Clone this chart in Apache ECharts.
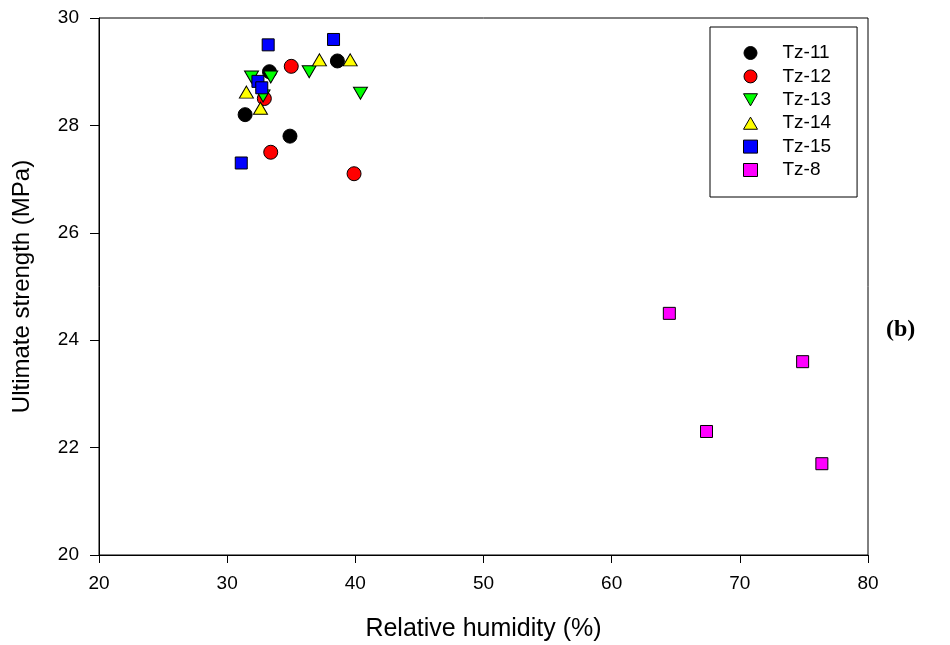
<!DOCTYPE html>
<html><head><meta charset="utf-8">
<script src="https://cdn.jsdelivr.net/npm/echarts@6/dist/echarts.min.js"></script>
<style>html,body{margin:0;padding:0;background:#fff}#c{width:950px;height:645px}</style>
</head><body><div id="c"></div>
<script>
const seriesNames = ['Tz-11','Tz-12','Tz-13','Tz-14','Tz-15','Tz-8'];
const tz11 = [[31.4,28.2],[33.3,29.0],[34.9,27.8],[38.6,29.2]];
const tz12 = [[35.0,29.1],[32.9,28.5],[33.4,27.5],[39.9,27.1]];
const tz13 = [[31.9,28.9],[33.4,28.9],[32.8,28.55],[36.4,29.0],[40.4,28.6]];
const tz14 = [[31.5,28.62],[32.6,28.32],[37.2,29.22],[39.6,29.22]];
const tz15 = [[33.2,29.5],[38.3,29.6],[32.4,28.82],[32.7,28.7],[31.1,27.3]];
const tz8  = [[64.5,24.5],[74.9,23.6],[67.4,22.3],[76.4,21.7]];
const xTicks = [20,30,40,50,60,70,80];
const yTicks = [20,22,24,26,28,30];

const downTri = 'path://M0,0 L10,0 L5,8.66 Z';
const upTri = 'path://M5,0 L10,8.66 L0,8.66 Z';
const styles = [
  {symbol:'circle', size:14, color:'#000000'},
  {symbol:'circle', size:14, color:'#ff0000'},
  {symbol:downTri, size:[14,12], color:'#00ff00'},
  {symbol:upTri, size:[14,12], color:'#ffff00'},
  {symbol:'rect', size:12, color:'#0000ff'},
  {symbol:'rect', size:12, color:'#ff00ff'}
];
const datas = [tz11,tz12,tz13,tz14,tz15,tz8];

const chart = echarts.init(document.getElementById('c'), null, {renderer:'canvas'});
const font = 'Liberation Sans, Arial, sans-serif';
chart.setOption({
  animation:false,
  backgroundColor:'#ffffff',
  grid:{left:99, right:82, top:18, bottom:90, show:true, borderColor:'#000', borderWidth:1, backgroundColor:'transparent', containLabel:false, outerBoundsMode:'none'},
  xAxis:{
    type:'value', min:xTicks[0], max:xTicks[xTicks.length-1], interval:10,
    name:'Relative humidity (%)', nameLocation:'middle', nameGap:62,
    nameTextStyle:{fontFamily:font, fontSize:25, color:'#000'},
    axisLine:{show:true, onZero:false, lineStyle:{color:'#000', width:1}},
    axisTick:{show:true, inside:false, length:8, lineStyle:{color:'#000'}},
    axisLabel:{fontFamily:font, fontSize:19, color:'#000', margin:19},
    splitLine:{show:false}
  },
  yAxis:{
    type:'value', min:yTicks[0], max:yTicks[yTicks.length-1], interval:2,
    name:'Ultimate strength (MPa)', nameLocation:'middle', nameGap:65,
    nameTextStyle:{fontFamily:font, fontSize:24, color:'#000'},
    axisLine:{show:true, onZero:false, lineStyle:{color:'#000', width:1}},
    axisTick:{show:true, inside:false, length:9, lineStyle:{color:'#000'}},
    axisLabel:{fontFamily:font, fontSize:19, color:'#000', margin:20},
    splitLine:{show:false}
  },
  legend:{
    orient:'vertical', left:710, top:27,
    data:seriesNames,
    itemWidth:14, itemHeight:13, itemGap:4.4,
    padding:[16.5,26,17.5,33],
    borderColor:'#000', borderWidth:1, backgroundColor:'#fff',
    textStyle:{fontFamily:font, fontSize:19, color:'#000', padding:[0,0,0,20], lineHeight:19},
    itemStyle:{borderColor:'#000', borderWidth:1}
  },
  graphic:[{type:'text', left:886, top:318, style:{text:'(b)', font:'bold 24px "Liberation Serif", "Times New Roman", serif', fill:'#000'}}],
  series: datas.map((d,i)=>({
    name:seriesNames[i], type:'scatter', data:d,
    symbol:styles[i].symbol, symbolSize:styles[i].size,
    itemStyle:{color:styles[i].color, borderColor:'#000', borderWidth:1, opacity:1},
    z:2+i
  }))
});
</script>
</body></html>
